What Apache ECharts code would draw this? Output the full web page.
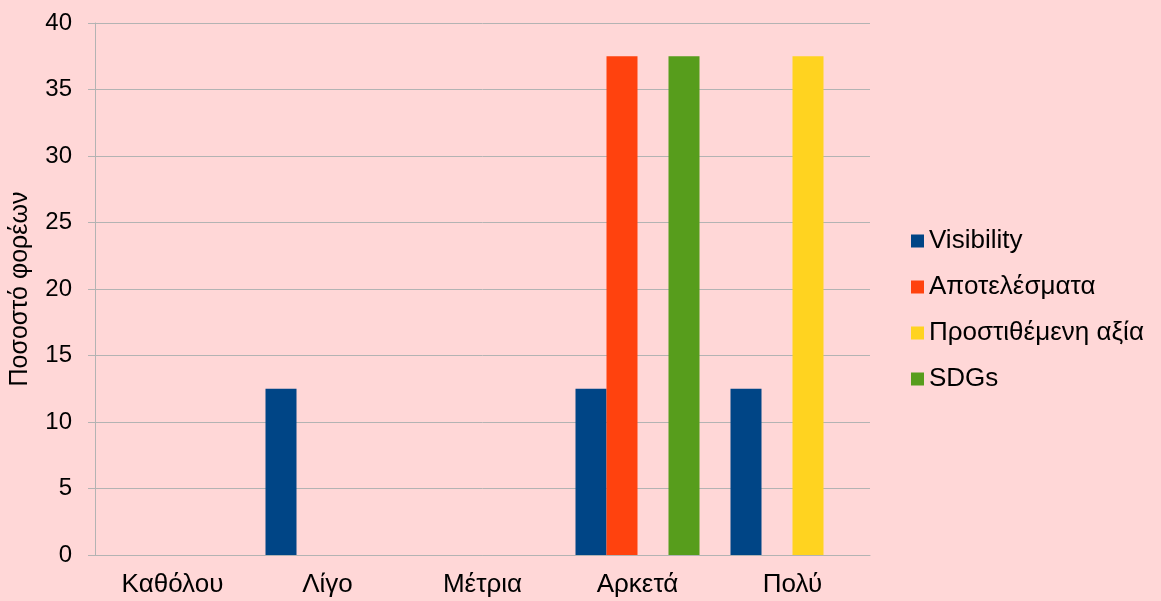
<!DOCTYPE html>
<html lang="el">
<head>
    <meta charset="UTF-8">
    <title>Ποσοστό φορέων</title>
    <script src="https://cdn.jsdelivr.net/npm/echarts@6/dist/echarts.min.js"></script>
    <style>
        html, body { margin: 0; padding: 0; background: #ffd7d7; }
    </style>
</head>
<body>
<div id="main" style="width: 1161px;height:601px;"></div>
<script type="text/javascript">
    var categories = ['Καθόλου', 'Λίγο', 'Μέτρια', 'Αρκετά', 'Πολύ'];
    var visibility = [0, 12.5, 0, 12.5, 12.5];
    var apotelesmata = [0, 0, 0, 37.5, 0];
    var prostithemeni = [0, 0, 0, 0, 37.5];
    var sdgs = [0, 0, 0, 37.5, 0];
    var yTicks = [0, 5, 10, 15, 20, 25, 30, 35, 40];

    var font = 'Liberation Sans, Arial, sans-serif';
    var gridColor = '#b3b3b3';

    var myChart = echarts.init(document.getElementById('main'));

    function bar(name, data, color) {
        return {
            name: name,
            type: 'bar',
            data: data,
            barGap: 0,
            barCategoryGap: '20%',
            itemStyle: { color: color }
        };
    }

    myChart.setOption({
        backgroundColor: '#ffd7d7',
        animation: false,
        grid: { left: 95, top: 23, right: 291, bottom: 46 },
        legend: {
            orient: 'vertical',
            left: 911,
            top: 228,
            padding: 0,
            itemWidth: 13,
            itemHeight: 13,
            itemGap: 20,
            itemTextGap: 6,
            icon: 'rect',
            textStyle: { fontFamily: font, fontSize: 26, color: '#000' },
            data: ['Visibility', 'Αποτελέσματα', 'Προστιθέμενη αξία', 'SDGs']
        },
        xAxis: {
            type: 'category',
            data: categories,
            axisLine: { lineStyle: { color: gridColor } },
            axisTick: { length: 7, lineStyle: { color: gridColor } },
            axisLabel: { fontFamily: font, fontSize: 26, color: '#000', margin: 17 }
        },
        yAxis: {
            type: 'value',
            min: yTicks[0],
            max: yTicks[yTicks.length - 1],
            interval: 5,
            name: 'Ποσοστό φορέων',
            nameLocation: 'middle',
            nameGap: 62,
            nameTextStyle: { fontFamily: font, fontSize: 25, color: '#000' },
            axisLine: { show: true, lineStyle: { color: gridColor } },
            axisTick: { show: true, length: 7, lineStyle: { color: gridColor } },
            splitLine: { lineStyle: { color: gridColor } },
            axisLabel: { fontFamily: font, fontSize: 24, color: '#000', margin: 23 }
        },
        series: [
            bar('Visibility', visibility, '#004586'),
            bar('Αποτελέσματα', apotelesmata, '#ff420e'),
            bar('Προστιθέμενη αξία', prostithemeni, '#ffd320'),
            bar('SDGs', sdgs, '#579d1c')
        ]
    });
</script>
</body>
</html>
